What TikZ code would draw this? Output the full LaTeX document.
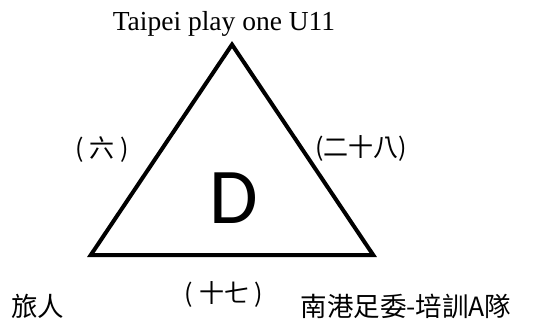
\documentclass[tikz,border=0pt]{standalone}
\usepackage{fontspec}
\setmainfont{Liberation Serif}
\newfontfamily\cjk{Noto Sans CJK TC}
\newfontfamily\calibri{Carlito}

\begin{document}
\begin{tikzpicture}[x=1pt,y=-1pt]
  \tikzstyle{team}=[inner sep=0pt,font=\cjk\fontsize{26.5}{26.5}\selectfont]
  \tikzstyle{score}=[inner sep=0pt,font=\cjk\fontsize{25}{25}\selectfont]
  \useasboundingbox (0,0) rectangle (533,324);

  \coordinate (T_top) at (232,44.6);
  \coordinate (T_left) at (90.8,255);
  \coordinate (T_right) at (373.2,255);

  \draw[line width=4pt,line join=miter] (T_top) -- (T_left) -- (T_right) -- cycle;

  \node[anchor=base,inner sep=0pt,font=\fontsize{27.5}{27.5}\selectfont] (team_top) at (224,30) {Taipei play one U11};
  \node[team] (team_left) at (38,306) {旅人};
  \node[team] (team_right) at (406,306) {南港足委-培訓A隊};

  \node[score] (score_left) at (102,150) {( 六 )};
  \node[score] (score_right) at (361,148) {(二十八)};
  \node[score] (score_bottom) at (224,294) {( 十七 )};

  \node[inner sep=0pt,font=\calibri\fontsize{79}{79}\selectfont] (group) at (233.5,198.5) {D};
\end{tikzpicture}
\end{document}
